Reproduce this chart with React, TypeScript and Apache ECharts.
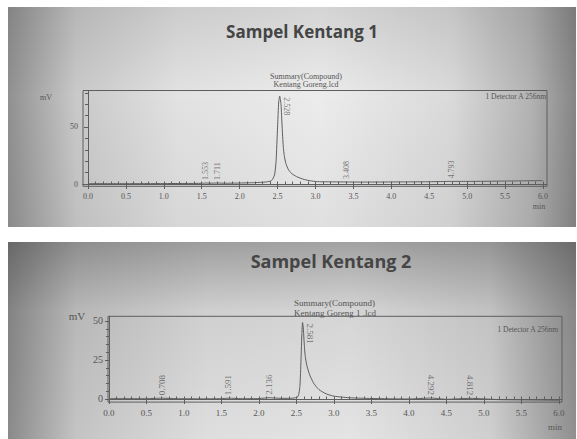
import React, { useEffect, useRef } from "react";
import * as echarts from "echarts";

// ---------- data: panel 1 (Sampel Kentang 1) ----------
const title1 = "Sampel Kentang 1";
const file1 = "Kentang Goreng.lcd";
const time1 = [0.0, 0.5, 1.0, 1.5, 1.553, 1.6, 1.711, 1.8, 2.0, 2.2, 2.35, 2.42, 2.46, 2.48, 2.5, 2.515, 2.528, 2.545, 2.56, 2.575, 2.59, 2.61, 2.64, 2.68, 2.75, 2.85, 2.95, 3.05, 3.2, 3.408, 3.6, 4.0, 4.5, 4.793, 5.0, 5.5, 6.0];
const signal1 = [0.3, 0.3, 0.4, 0.6, 0.9, 0.7, 0.9, 0.7, 0.9, 1.2, 1.8, 3, 8, 20, 50, 72, 77, 70, 50, 33, 24, 18, 13, 9.5, 6.5, 4, 2.6, 2.0, 1.9, 1.8, 1.7, 1.8, 2.0, 2.3, 2.3, 2.6, 3.0];
const peakTimes1 = ["1.553", "1.711", "2.528", "3.408", "4.793"];
const peakHeights1 = [0.9, 0.9, 77, 1.8, 2.3];
const yLabels1 = [0, 50];
const yMinor1 = [0, 10, 20, 30, 40, 50, 60, 70, 80];

// ---------- data: panel 2 (Sampel Kentang 2) ----------
const title2 = "Sampel Kentang 2";
const file2 = "Kentang Goreng 1 .lcd";
const time2 = [0.0, 0.5, 0.708, 0.9, 1.2, 1.5, 1.591, 1.8, 2.0, 2.136, 2.3, 2.45, 2.52, 2.545, 2.56, 2.572, 2.581, 2.59, 2.6, 2.615, 2.64, 2.68, 2.73, 2.8, 2.9, 3.0, 3.2, 3.5, 4.0, 4.292, 4.5, 4.812, 5.2, 5.6, 6.0];
const signal2 = [0.2, 0.2, 0.5, 0.2, 0.1, 0.2, 0.5, 0.2, 0.3, 0.8, 0.4, 0.5, 1.5, 8, 25, 42, 49, 46, 38, 28, 21, 15, 10, 6, 3.2, 1.8, 0.8, 0.3, 0.0, 0.6, -0.2, 0.4, -0.4, -0.6, -0.8];
const peakTimes2 = ["0.708", "1.591", "2.136", "2.581", "4.292", "4.812"];
const peakHeights2 = [0.5, 0.5, 0.8, 49, 0.6, 0.4];
const yLabels2 = [0, 25, 50];
const yMinor2 = [0, 5, 10, 15, 20, 25, 30, 35, 40, 45, 50, 55];

const xLabels = [0, 0.5, 1, 1.5, 2, 2.5, 3, 3.5, 4, 4.5, 5, 5.5, 6];
const headerLine = "Summary(Compound)";
const detectorText = "1 Detector A 256nm";
const yUnit = "mV";
const xUnit = "min";

const xMinor: number[] = [];
for (let i = 0; i <= 60; i++) xMinor.push(i / 10);

const lineColor = "#5e5e5e";
const textColor = "#555555";
const serif = '"Liberation Serif", "DejaVu Serif", serif';

function peakLabels(times: string[], heights: number[], downAfterMain: boolean) {
  const maxH = Math.max(...heights);
  const mainIdx = heights.indexOf(maxH);
  return times.map((t, i) => {
    const v = parseFloat(t);
    if (i === mainIdx) {
      // reads downward, to the right of the peak top
      return {
        value: [v, heights[i]],
        label: { rotate: -90, align: "left", verticalAlign: "middle", offset: [1, -7] },
      };
    }
    if (downAfterMain && i > mainIdx) {
      // reads downward, ending just above the baseline
      return {
        value: [v, heights[i]],
        label: { rotate: -90, align: "right", verticalAlign: "middle", offset: [-3, 0] },
      };
    }
    // reads upward, starting just above the baseline
    return {
      value: [v, heights[i]],
      label: { rotate: 90, align: "left", verticalAlign: "middle", offset: [3, 0] },
    };
  });
}

export default function App() {
  const ref = useRef<HTMLDivElement>(null);
  useEffect(() => {
    document.body.style.margin = "0";
    document.body.style.background = "#fff";
    const chart = echarts.init(ref.current!, null, { renderer: "svg" });

    const bgTop = new echarts.graphic.LinearGradient(0, 0, 1, 0, [
      { offset: 0, color: "#909090" },
      { offset: 0.12, color: "#c9c9c9" },
      { offset: 0.3, color: "#e2e2e2" },
      { offset: 0.55, color: "#ececec" },
      { offset: 0.78, color: "#dadada" },
      { offset: 0.92, color: "#b3b3b3" },
      { offset: 1, color: "#858585" },
    ]);
    const bgBot = new echarts.graphic.LinearGradient(0, 0, 1, 0, [
      { offset: 0, color: "#8a8a8a" },
      { offset: 0.12, color: "#c4c4c4" },
      { offset: 0.35, color: "#dedede" },
      { offset: 0.6, color: "#e4e4e4" },
      { offset: 0.85, color: "#cfcfcf" },
      { offset: 1, color: "#8f8f8f" },
    ]);
    const shadeBot = new echarts.graphic.LinearGradient(0, 0, 0, 1, [
      { offset: 0, color: "rgba(40,40,40,0.35)" },
      { offset: 0.35, color: "rgba(40,40,40,0.08)" },
      { offset: 1, color: "rgba(40,40,40,0)" },
    ]);
    const shadeTop = new echarts.graphic.LinearGradient(0, 0, 0, 1, [
      { offset: 0, color: "rgba(40,40,40,0.12)" },
      { offset: 0.4, color: "rgba(40,40,40,0)" },
      { offset: 1, color: "rgba(40,40,40,0.06)" },
    ]);

    const txt = (text: string, x: number, y: number, font: string, align = "center", fill = textColor) => ({
      type: "text",
      x,
      y,
      z: 50,
      style: { text, font, fill, textAlign: align, textVerticalAlign: "middle" },
    });

    const axisPair = (gridIndex: number, min: number, max: number, fs: number, margin: number) => [
      {
        type: "value", gridIndex, min, max,
        axisLine: { show: true, lineStyle: { color: lineColor } },
        axisTick: { show: true, customValues: xLabels, length: 5, lineStyle: { color: lineColor } },
        axisLabel: {
          show: true, customValues: xLabels, margin,
          formatter: (v: number) => v.toFixed(1),
          fontFamily: serif, fontSize: fs, color: textColor,
        },
        splitLine: { show: false },
      },
      {
        type: "value", gridIndex, min, max,
        axisLine: { show: false },
        axisTick: { show: true, customValues: xMinor, length: 2.5, lineStyle: { color: lineColor } },
        axisLabel: { show: false },
        splitLine: { show: false },
      },
    ];
    const yPair = (gridIndex: number, min: number, max: number, labels: number[], minor: number[], fs: number) => [
      {
        type: "value", gridIndex, min, max,
        axisLine: { show: true, lineStyle: { color: lineColor } },
        axisTick: { show: true, customValues: labels, length: 4, lineStyle: { color: lineColor } },
        axisLabel: { show: true, customValues: labels, margin: 5, fontFamily: serif, fontSize: fs, color: textColor },
        splitLine: { show: false },
      },
      {
        type: "value", gridIndex, min, max,
        axisLine: { show: false },
        axisTick: { show: true, inside: true, customValues: minor, length: 3, lineStyle: { color: lineColor } },
        axisLabel: { show: false },
        splitLine: { show: false },
      },
    ];

    const labelSeries = (xi: number, yi: number, data: any[], fs: number) => ({
      type: "scatter",
      xAxisIndex: xi,
      yAxisIndex: yi,
      symbolSize: 0,
      silent: true,
      data,
      label: {
        show: true,
        position: "inside",
        fontFamily: serif,
        fontSize: fs,
        color: textColor,
        formatter: (p: any) => p.value[0].toFixed(3),
      },
      z: 5,
    });

    chart.setOption({
      animation: false,
      backgroundColor: "#ffffff",
      graphic: {
        elements: [
          { type: "rect", z: -10, shape: { x: 8, y: 7, width: 568, height: 220 }, style: { fill: bgTop } },
          { type: "rect", z: -9, shape: { x: 8, y: 7, width: 568, height: 220 }, style: { fill: shadeTop } },
          { type: "rect", z: -10, shape: { x: 8, y: 242, width: 568, height: 197 }, style: { fill: bgBot } },
          { type: "rect", z: -9, shape: { x: 8, y: 242, width: 568, height: 197 }, style: { fill: shadeBot } },
          txt(title1, 302, 31, 'bold 17px "Open Sans", "Noto Sans", sans-serif', "center", "#454545"),
          txt(headerLine, 306, 76, `8px ${serif}`),
          txt(file1, 306, 84.5, `8px ${serif}`),
          txt(detectorText, 546, 96, `7.5px ${serif}`, "right"),
          txt(yUnit, 46, 97, `8px ${serif}`),
          txt(xUnit, 539, 206, `8px ${serif}`),
          txt(title2, 331, 261, 'bold 18px "Open Sans", "Noto Sans", sans-serif', "center", "#454545"),
          txt(headerLine, 294, 303, `9px ${serif}`, "left"),
          txt(file2, 294, 313, `9px ${serif}`, "left"),
          txt(detectorText, 558, 329, `7.5px ${serif}`, "right"),
          txt(yUnit, 77, 316, `11px ${serif}`),
          txt(xUnit, 555, 427, `9px ${serif}`),
        ],
      },
      grid: [
        { left: 83, top: 90.5, width: 464, height: 95.8, show: true, borderColor: lineColor, borderWidth: 1, backgroundColor: "transparent" },
        { left: 108, top: 316.3, width: 454, height: 85.8, show: true, borderColor: lineColor, borderWidth: 1, backgroundColor: "transparent" },
      ],
      xAxis: [...axisPair(0, -0.066, 6.053, 8, 6), ...axisPair(1, -0.013, 6.04, 9, 6)],
      yAxis: [...yPair(0, -2, 82, yLabels1, yMinor1, 8), ...yPair(1, -2, 53, yLabels2, yMinor2, 10)],
      series: [
        {
          type: "line", xAxisIndex: 0, yAxisIndex: 0, showSymbol: false, smooth: 0.2,
          lineStyle: { color: lineColor, width: 1 },
          data: time1.map((t, i) => [t, signal1[i]]),
        },
        labelSeries(0, 0, peakLabels(peakTimes1, peakHeights1, false), 8),
        {
          type: "line", xAxisIndex: 2, yAxisIndex: 2, showSymbol: false, smooth: 0.2,
          lineStyle: { color: lineColor, width: 1 },
          data: time2.map((t, i) => [t, signal2[i]]),
        },
        labelSeries(2, 2, peakLabels(peakTimes2, peakHeights2, true), 9),
      ],
    });
    return () => chart.dispose();
  }, []);
  return <div ref={ref} style={{ position: "fixed", left: 0, top: 0, width: 577, height: 439 }} />;
}
